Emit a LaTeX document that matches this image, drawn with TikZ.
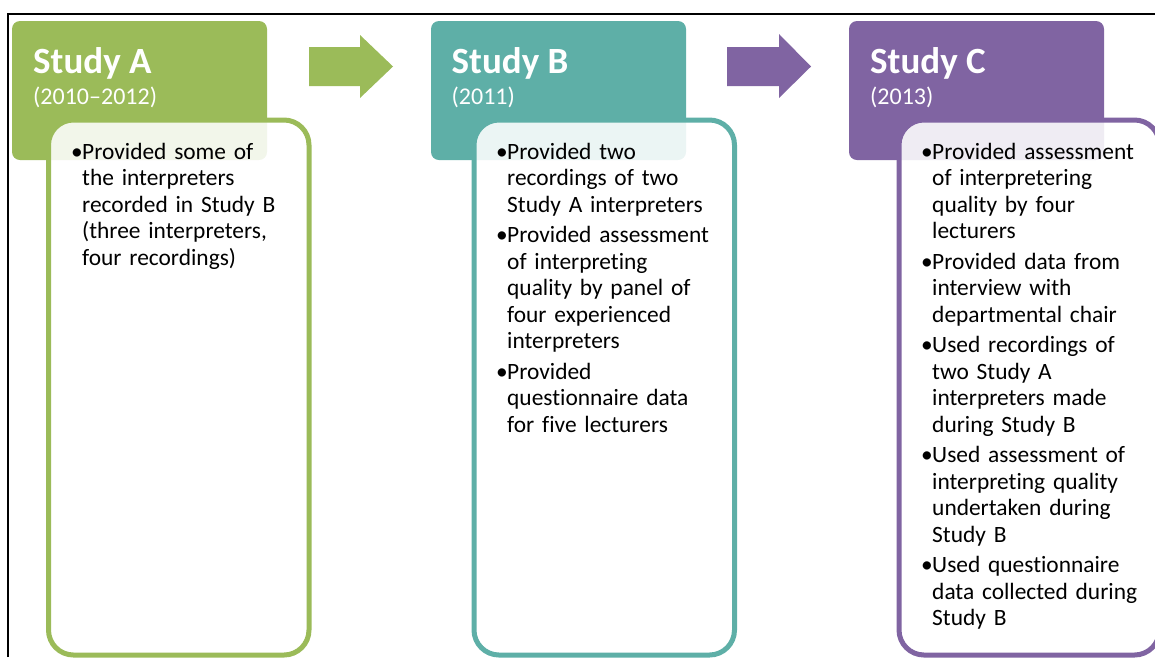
\documentclass[tikz,border=0pt]{standalone}
\usepackage{fontspec}
\setmainfont{Carlito}[Ligatures=NoCommon]
\definecolor{cA}{HTML}{9BBB59}
\definecolor{cB}{HTML}{5EAFA7}
\definecolor{cC}{HTML}{8064A2}
\newcommand{\bul}[1]{\hangindent=11pt\hangafter=1\noindent\makebox[11pt][l]{\textbullet}#1\par}
\tikzset{
  hdr/.style={rectangle, rounded corners=8pt, inner sep=0pt, minimum width=255pt, minimum height=139pt, draw=none},
  bx/.style={rectangle, rounded corners=25pt, inner sep=0pt, minimum width=260.5pt, minimum height=535pt, line width=5pt, fill=white, fill opacity=0.88, draw opacity=1},
  ttl/.style={anchor=base west, inner sep=0pt, text=white, font=\fontsize{37}{40}\selectfont\bfseries},
  yr/.style={anchor=base west, inner sep=0pt, text=white, font=\fontsize{24}{26}\selectfont},
  body/.style={anchor=base west, inner sep=0pt, text width=245pt, align=left, font=\fontsize{23.4}{26.5}\selectfont\setlength{\parskip}{4pt}}
}
\begin{document}
\begin{tikzpicture}[x=1pt,y=-1pt]
\useasboundingbox (0,0) rectangle (1155,657);
\clip (0,0) rectangle (1155,657);
% frame
\draw[line width=2pt] (8.3,657) -- (8.3,14.3) -- (1160,14.3);
% headers
\node[hdr, fill=cA] (hA) at (139.5,90.5) {};
\node[hdr, fill=cB] (hB) at (558.5,90.5) {};
\node[hdr, fill=cC] (hC) at (976.5,90.5) {};
% arrows
\fill[cA] (309,47) -- (360,47) -- (360,35) -- (393,66.5) -- (360,98) -- (360,86) -- (309,86) -- cycle;
\fill[cC] (727,47) -- (779,47) -- (779,34) -- (811,66.5) -- (779,98) -- (779,86) -- (727,86) -- cycle;
% content boxes
\node[bx, draw=cA] (bA) at (178.75,387.5) {};
\node[bx, draw=cB] (bB) at (604.25,387.5) {};
\node[bx, draw=cC] (bC) at (1029.25,387.5) {};
% titles
\node[ttl] (tA) at (33,73) {Study A};
\node[yr] (yA) at (33,104) {(2010–2012)};
\node[ttl] (tB) at (451.5,73) {Study B};
\node[yr] (yB) at (451.5,104) {(2011)};
\node[ttl] (tC) at (870,73) {Study C};
\node[yr] (yC) at (870,104) {(2013)};
% bodies
\node[body] (xA) at (71,159) {%
\bul{Provided some of\newline the interpreters\newline recorded in Study B\newline (three interpreters,\newline four recordings)}};
\node[body] (xB) at (496,159) {%
\bul{Provided two\newline recordings of two\newline Study A interpreters}
\bul{Provided assessment\newline of interpreting\newline quality by panel of\newline four experienced\newline interpreters}
\bul{Provided\newline questionnaire data\newline for five lecturers}};
\node[body] (xC) at (921,159) {%
\bul{Provided assessment\newline of interpretering\newline quality by four\newline lecturers}
\bul{Provided data from\newline interview with\newline departmental chair}
\bul{Used recordings of\newline two Study A\newline interpreters made\newline during Study B}
\bul{Used assessment of\newline interpreting quality\newline undertaken during\newline Study B}
\bul{Used questionnaire\newline data collected during\newline Study B}};
\end{tikzpicture}
\end{document}
